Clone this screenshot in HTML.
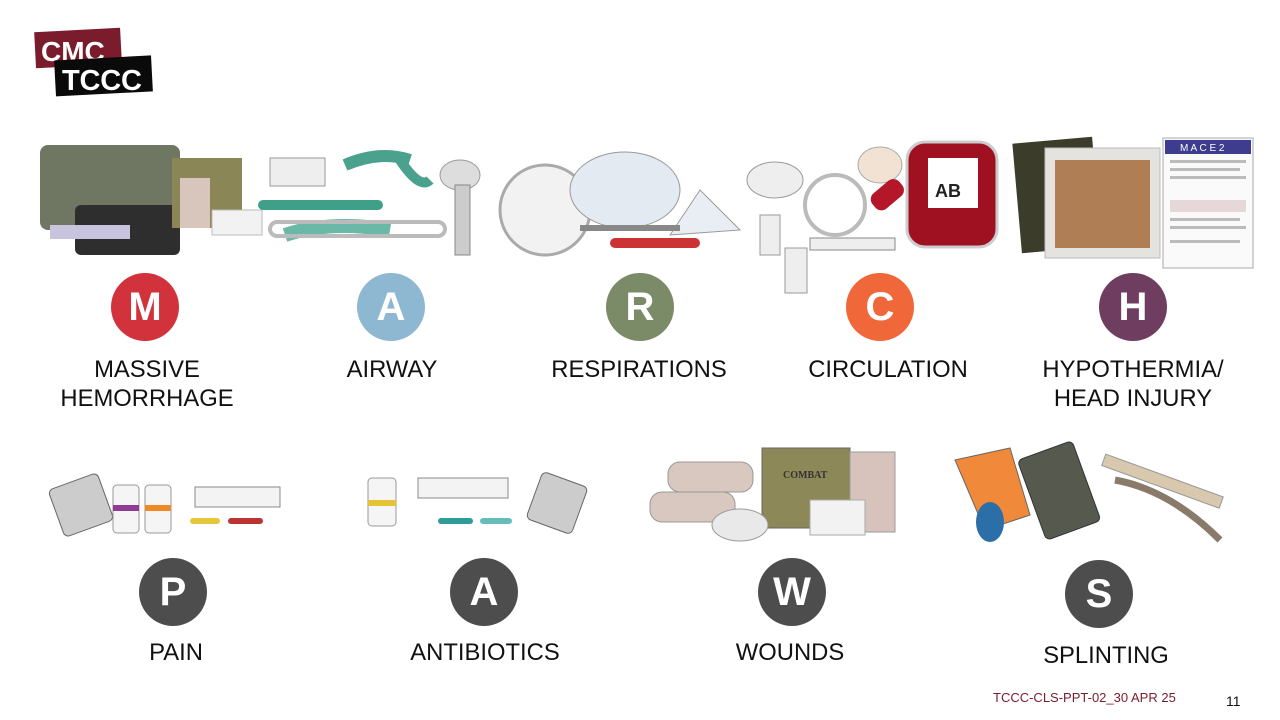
<!DOCTYPE html>
<html><head><meta charset="utf-8"><style>
body{margin:0;width:1280px;height:720px;background:#fff;position:relative;overflow:hidden;font-family:"Liberation Sans",sans-serif}
.c{position:absolute;width:68px;height:68px;border-radius:50%;color:#fff;font-weight:bold;font-size:40px;line-height:68px;text-align:center}
.l{position:absolute;font-size:23.8px;color:#111;text-align:center;line-height:29px;white-space:nowrap;transform:translateX(-50%)}
svg{position:absolute;left:0;top:0}
</style></head><body>
<svg width="1280" height="720">
<g transform="rotate(-3 78 47)"><rect x="35" y="30" width="86" height="36" fill="#7a1c2c"/></g>
<text x="41" y="61" font-family="Liberation Sans" font-weight="bold" font-size="28" fill="#fff">CMC</text>
<g transform="rotate(-3 102 76)"><rect x="55" y="58" width="97" height="36" fill="#0a0a0a"/></g>
<text x="62" y="90" font-family="Liberation Sans" font-weight="bold" font-size="29" fill="#fff" textLength="80">TCCC</text>
<rect x="40" y="145" width="140" height="85" rx="8" fill="#6f7662"/>
<rect x="75" y="205" width="105" height="50" rx="6" fill="#2e2e2e"/>
<rect x="172" y="158" width="70" height="70" fill="#8b8656"/>
<rect x="180" y="178" width="30" height="50" fill="#d8c6bc"/>
<rect x="212" y="210" width="50" height="25" fill="#f2f2f2" stroke="#bbb"/>
<rect x="50" y="225" width="80" height="14" fill="#c9c4dd"/>
<rect x="270" y="158" width="55" height="28" fill="#eee" stroke="#999"/>
<path d="M345 165 Q380 150 410 160" stroke="#4aa18e" stroke-width="12" fill="none"/>
<path d="M400 160 Q420 190 430 180" stroke="#4aa18e" stroke-width="10" fill="none"/>
<path d="M285 235 Q330 220 390 230" stroke="#6ab8a8" stroke-width="14" fill="none"/>
<rect x="270" y="222" width="175" height="14" rx="7" fill="none" stroke="#bbb" stroke-width="4"/>
<rect x="258" y="200" width="125" height="10" rx="5" fill="#3fa08a"/>
<ellipse cx="460" cy="175" rx="20" ry="15" fill="#ddd" stroke="#999"/>
<rect x="455" y="185" width="15" height="70" fill="#ccc" stroke="#888"/>
<circle cx="545" cy="210" r="45" fill="#f2f2f2" stroke="#aaa" stroke-width="3"/>
<ellipse cx="625" cy="190" rx="55" ry="38" fill="#e3eaf2" stroke="#999"/>
<path d="M670 235 L740 230 L700 190 Z" fill="#e8eef3" stroke="#999"/>
<rect x="610" y="238" width="90" height="10" rx="5" fill="#c33"/>
<rect x="580" y="225" width="100" height="6" fill="#888"/>
<ellipse cx="775" cy="180" rx="28" ry="18" fill="#eee" stroke="#999"/>
<circle cx="835" cy="205" r="30" fill="none" stroke="#bbb" stroke-width="4"/>
<ellipse cx="880" cy="165" rx="22" ry="18" fill="#f1e2d4" stroke="#aaa"/>
<rect x="810" y="238" width="85" height="12" fill="#eee" stroke="#888"/>
<rect x="760" y="215" width="20" height="40" fill="#eee" stroke="#999"/>
<rect x="785" y="248" width="22" height="45" fill="#eee" stroke="#999"/>
<rect x="870" y="185" width="35" height="20" rx="8" fill="#b5172a" transform="rotate(-40 887 195)"/>
<rect x="907" y="142" width="90" height="105" rx="18" fill="#9f1020" stroke="#ccc" stroke-width="3"/>
<rect x="928" y="158" width="50" height="50" fill="#fff"/>
<text x="935" y="197" font-family="Liberation Sans" font-weight="bold" font-size="18" fill="#222">AB</text>
<rect x="1017" y="140" width="80" height="110" fill="#3b3d2a" transform="rotate(-5 1057 195)"/>
<rect x="1045" y="148" width="115" height="110" fill="#e5e3df" stroke="#bbb"/>
<rect x="1055" y="160" width="95" height="88" fill="#b07e55"/>
<rect x="1163" y="138" width="90" height="130" fill="#fafafa" stroke="#aaa"/>
<rect x="1165" y="140" width="86" height="14" fill="#3d3c8f"/>
<text x="1180" y="151" font-family="Liberation Sans" font-size="10" fill="#fff">M A C E 2</text>
<g fill="#bbb"><rect x="1170" y="160" width="76" height="3"/><rect x="1170" y="168" width="70" height="3"/><rect x="1170" y="176" width="76" height="3"/><rect x="1170" y="200" width="76" height="12" fill="#e6d8d8"/><rect x="1170" y="218" width="70" height="3"/><rect x="1170" y="226" width="76" height="3"/><rect x="1170" y="240" width="70" height="3"/></g>
<rect x="55" y="480" width="52" height="50" rx="5" fill="#ccc" stroke="#666" transform="rotate(-20 81 505)"/>
<rect x="113" y="485" width="26" height="48" rx="4" fill="#f5f5f5" stroke="#999"/>
<rect x="145" y="485" width="26" height="48" rx="4" fill="#f5f5f5" stroke="#999"/>
<rect x="113" y="505" width="26" height="6" fill="#8e3c94"/><rect x="145" y="505" width="26" height="6" fill="#ef8a25"/>
<rect x="195" y="487" width="85" height="20" fill="#f3f3f3" stroke="#888"/>
<rect x="190" y="518" width="30" height="6" rx="3" fill="#e6c63a"/><rect x="228" y="518" width="35" height="6" rx="3" fill="#b33"/>
<rect x="368" y="478" width="28" height="48" rx="4" fill="#f5f5f5" stroke="#999"/>
<rect x="368" y="500" width="28" height="6" fill="#e5c335"/>
<rect x="418" y="478" width="90" height="20" fill="#f3f3f3" stroke="#888"/>
<rect x="438" y="518" width="35" height="6" rx="3" fill="#2d9c9a"/><rect x="480" y="518" width="32" height="6" rx="3" fill="#6bb"/>
<rect x="533" y="478" width="48" height="50" rx="5" fill="#ccc" stroke="#666" transform="rotate(20 557 503)"/>
<rect x="668" y="462" width="85" height="30" rx="12" fill="#d9c8c0" stroke="#999"/>
<rect x="650" y="492" width="85" height="30" rx="12" fill="#d9c8c0" stroke="#999"/>
<rect x="762" y="448" width="88" height="80" fill="#8c8858" stroke="#666"/>
<text x="783" y="478" font-family="Liberation Serif" font-weight="bold" font-size="10" fill="#333">COMBAT</text>
<rect x="850" y="452" width="45" height="80" fill="#d7c3bb" stroke="#999"/>
<ellipse cx="740" cy="525" rx="28" ry="16" fill="#e9e9e9" stroke="#999"/>
<rect x="810" y="500" width="55" height="35" fill="#f2f2f2" stroke="#aaa"/>
<path d="M955 460 L1010 448 L1030 515 L985 530 Z" fill="#f08a3a" stroke="#666"/>
<ellipse cx="990" cy="522" rx="14" ry="20" fill="#2c6ea8"/>
<rect x="1030" y="448" width="58" height="85" rx="5" fill="#55594e" stroke="#333" transform="rotate(-20 1059 490)"/>
<rect x="1100" y="475" width="125" height="12" fill="#d8c8ad" stroke="#999" transform="rotate(20 1162 481)"/>
<path d="M1115 480 Q1170 490 1220 540" stroke="#8a7a6a" stroke-width="7" fill="none"/>
</svg>
<div class="c" style="left:111px;top:273px;background:#d2323c">M</div>
<div class="c" style="left:357px;top:273px;background:#8eb8d2">A</div>
<div class="c" style="left:606px;top:273px;background:#7b8a67">R</div>
<div class="c" style="left:846px;top:273px;background:#f0673a">C</div>
<div class="c" style="left:1099px;top:273px;background:#6e3d5f">H</div>
<div class="c" style="left:139px;top:558px;background:#4d4d4d">P</div>
<div class="c" style="left:450px;top:558px;background:#4d4d4d">A</div>
<div class="c" style="left:758px;top:558px;background:#4d4d4d">W</div>
<div class="c" style="left:1065px;top:560px;background:#4d4d4d">S</div>
<div class="l" style="left:147px;top:355px">MASSIVE<br>HEMORRHAGE</div>
<div class="l" style="left:392px;top:355px">AIRWAY</div>
<div class="l" style="left:639px;top:355px">RESPIRATIONS</div>
<div class="l" style="left:888px;top:355px">CIRCULATION</div>
<div class="l" style="left:1133px;top:355px">HYPOTHERMIA/<br>HEAD INJURY</div>
<div class="l" style="left:176px;top:638px">PAIN</div>
<div class="l" style="left:485px;top:638px">ANTIBIOTICS</div>
<div class="l" style="left:790px;top:638px">WOUNDS</div>
<div class="l" style="left:1106px;top:641px">SPLINTING</div>
<div style="position:absolute;left:993px;top:690px;font-size:13px;color:#7a1c2c">TCCC-CLS-PPT-02_30 APR 25</div>
<div style="position:absolute;left:1226px;top:693px;font-size:14px;color:#111">11</div>
</body></html>
